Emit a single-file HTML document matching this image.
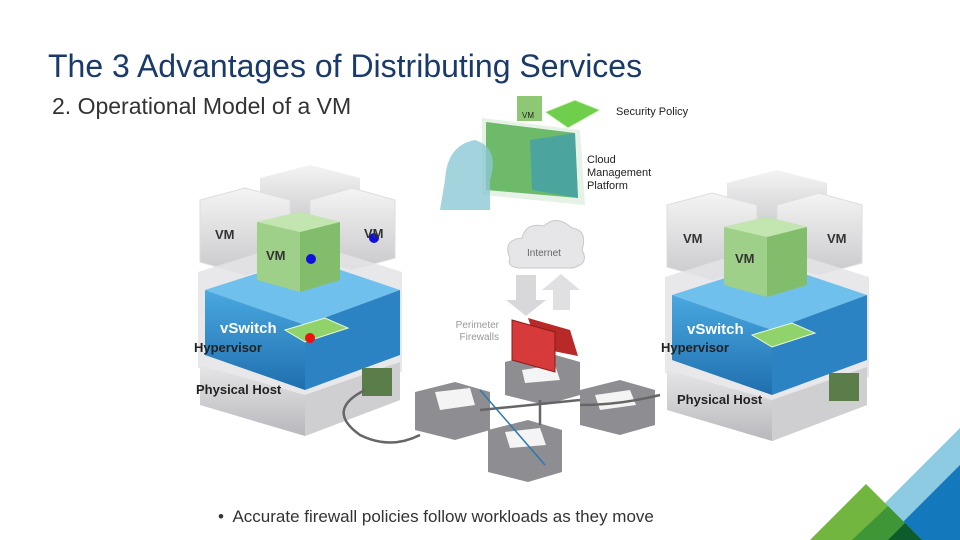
<!DOCTYPE html>
<html><head><meta charset="utf-8"><style>
html,body{margin:0;padding:0;background:#fff;}
#c{position:relative;width:960px;height:540px;overflow:hidden;font-family:"Liberation Sans",Arial,sans-serif;}
.t{position:absolute;white-space:nowrap;}
</style></head><body><div id="c">
<svg width="960" height="540" style="position:absolute;left:0;top:0">
<defs>
<linearGradient id="gv" x1="0" y1="0" x2="0" y2="1"><stop offset="0" stop-color="#f4f4f4"/><stop offset="1" stop-color="#c9c9cc"/></linearGradient>
<linearGradient id="bl" x1="0" y1="0" x2="0" y2="1"><stop offset="0" stop-color="#4aa8e0"/><stop offset="1" stop-color="#1f6fae"/></linearGradient>
<linearGradient id="sv" x1="0" y1="0" x2="0" y2="1"><stop offset="0" stop-color="#e8e8ea"/><stop offset="1" stop-color="#b8b8bc"/></linearGradient>
<g id="stack">
 <polygon points="260,178 310,165 360,178 360,215 310,228 260,215" fill="url(#gv)"/>
 <polygon points="200,200 245,188 290,200 290,262 245,275 200,262" fill="url(#gv)" stroke="#ddd"/>
 <polygon points="310,200 352,188 395,200 395,258 352,270 310,258" fill="url(#gv)" stroke="#ddd"/>
 <polygon points="198,272 300,240 402,272 402,372 305,400 198,368" fill="#e4e4e8" opacity="0.85"/>
 <polygon points="205,290 305,258 400,290 305,325" fill="#6fc0ec"/>
 <polygon points="205,290 305,325 305,390 205,355" fill="url(#bl)"/>
 <polygon points="305,325 400,290 400,355 305,390" fill="#2c83c4"/>
 <polygon points="257,222 300,212 340,222 340,280 300,292 257,280" fill="#9fd08a"/>
 <polygon points="300,232 340,222 340,280 300,292" fill="#82bd6c"/>
 <polygon points="257,222 300,212 340,222 300,232" fill="#c3e6b0"/>
 <polygon points="285,330 325,318 348,328 305,342" fill="#8fd36a" stroke="#e8f7d6"/>
 <polygon points="200,365 305,395 400,362 400,400 305,436 200,405" fill="url(#sv)"/>
 <polygon points="305,395 400,362 400,400 305,436" fill="#cfcfd2"/>
 <rect x="362" y="368" width="30" height="28" fill="#5a7d4a"/>
</g>
</defs>
<use href="#stack"/>
<use href="#stack" transform="translate(467,5)"/>
<circle cx="311" cy="259" r="5" fill="#1010dd"/>
<circle cx="374" cy="238" r="5" fill="#1010dd"/>
<circle cx="310" cy="338" r="5" fill="#ee1111"/>
<circle cx="532" cy="346" r="5" fill="#ee1111"/>
<polygon points="482,118 580,130 585,205 482,195" fill="#e6f2e6"/>
<polygon points="486,122 575,133 578,198 486,190" fill="#6dba6a"/>
<polygon points="530,140 575,133 578,198 532,190" fill="#3d9db5" opacity="0.7"/>
<path d="M445,180 q2,-35 30,-40 q25,8 15,40 l0,30 l-50,0z" fill="#8cc8d3" opacity="0.8"/>
<rect x="517" y="96" width="25" height="25" fill="#8fc874"/>
<polygon points="545,112 575,100 600,110 568,128" fill="#6fce4c" stroke="#e0f5cf"/>
<path d="M510,258 q-8,-18 12,-20 q4,-16 22,-12 q12,-12 28,2 q16,2 10,22 q8,14 -10,18 l-50,0 q-16,0 -12,-10z" fill="#e6e6e8" stroke="#c8c8cc"/>
<polygon points="516,275 536,275 536,300 546,300 526,316 506,300 516,300" fill="#d8d8da"/>
<polygon points="553,310 570,310 570,290 580,290 561,274 542,290 553,290" fill="#e0e0e2"/>
<g fill="#8e8e92">
<polygon points="505,362 545,352 580,362 580,395 545,405 505,395"/>
<polygon points="415,392 455,382 490,392 490,430 455,440 415,430"/>
<polygon points="580,390 620,380 655,390 655,425 620,435 580,425"/>
<polygon points="488,430 528,420 562,430 562,472 528,482 488,472"/>
</g>
<g fill="#f4f4f4"><polygon points="435,392 470,388 475,405 440,410"/><polygon points="595,395 630,390 636,405 600,410"/><polygon points="505,432 540,428 546,445 510,448"/><polygon points="522,370 555,365 560,380 525,383"/></g>
<polygon points="528,318 570,330 578,356 538,348" fill="#b82a2a"/>
<polygon points="512,320 555,332 555,372 512,360" fill="#d63a3a" stroke="#8a1a1a"/>
<g fill="none" stroke="#666" stroke-width="2.5">
<path d="M365,390 q-40,20 -5,45 q30,15 60,0"/>
<path d="M660,395 q-40,10 -80,10"/>
<path d="M480,410 l100,-10"/>
<path d="M540,400 l0,25"/>
</g>
<line x1="480" y1="390" x2="545" y2="465" stroke="#2a7ab0" stroke-width="1.5"/>
<polygon points="960,428 960,540 848,540" fill="#8dcbe3"/>
<polygon points="960,465 960,540 885,540" fill="#1478bd"/>
<polygon points="866,484 922,540 810,540" fill="#72b53f"/>
<polygon points="888,506 922,540 852,540" fill="#3f9637"/>
<polygon points="905,523 922,540 888,540" fill="#0e5b2c"/>
</svg>
<div class="t" style="left:48px;top:48px;font-size:32px;color:#1a3a6a">The 3 Advantages of Distributing Services</div>
<div class="t" style="left:52px;top:93px;font-size:23px;color:#333">2. Operational Model of a VM</div>
<div class="t" style="left:522px;top:111px;font-size:8px;color:#222">VM</div>
<div class="t" style="left:616px;top:106px;font-size:11px;color:#222">Security Policy</div>
<div class="t" style="left:587px;top:154px;font-size:11px;color:#222;line-height:13px">Cloud<br>Management<br>Platform</div>
<div class="t" style="left:527px;top:248px;font-size:10px;color:#666">Internet</div>
<div class="t" style="left:454px;top:320px;font-size:10px;color:#999;text-align:right;line-height:12px">Perimeter<br>&nbsp;&nbsp;Firewalls</div>
<div class="t" style="left:215px;top:227px;font-size:13px;font-weight:bold;color:#333">VM</div>
<div class="t" style="left:266px;top:248px;font-size:13px;font-weight:bold;color:#333">VM</div>
<div class="t" style="left:364px;top:226px;font-size:13px;font-weight:bold;color:#333">VM</div>
<div class="t" style="left:220px;top:320px;font-size:15px;font-weight:bold;color:#fff">vSwitch</div>
<div class="t" style="left:194px;top:340px;font-size:13px;font-weight:bold;color:#222">Hypervisor</div>
<div class="t" style="left:196px;top:382px;font-size:13px;font-weight:bold;color:#222">Physical Host</div>
<div class="t" style="left:683px;top:231px;font-size:13px;font-weight:bold;color:#333">VM</div>
<div class="t" style="left:735px;top:251px;font-size:13px;font-weight:bold;color:#333">VM</div>
<div class="t" style="left:827px;top:231px;font-size:13px;font-weight:bold;color:#333">VM</div>
<div class="t" style="left:687px;top:321px;font-size:15px;font-weight:bold;color:#fff">vSwitch</div>
<div class="t" style="left:661px;top:340px;font-size:13px;font-weight:bold;color:#222">Hypervisor</div>
<div class="t" style="left:677px;top:392px;font-size:13px;font-weight:bold;color:#222">Physical Host</div>
<div class="t" style="left:218px;top:507px;font-size:17px;color:#333">•&nbsp; Accurate firewall policies follow workloads as they move</div>
</div></body></html>
